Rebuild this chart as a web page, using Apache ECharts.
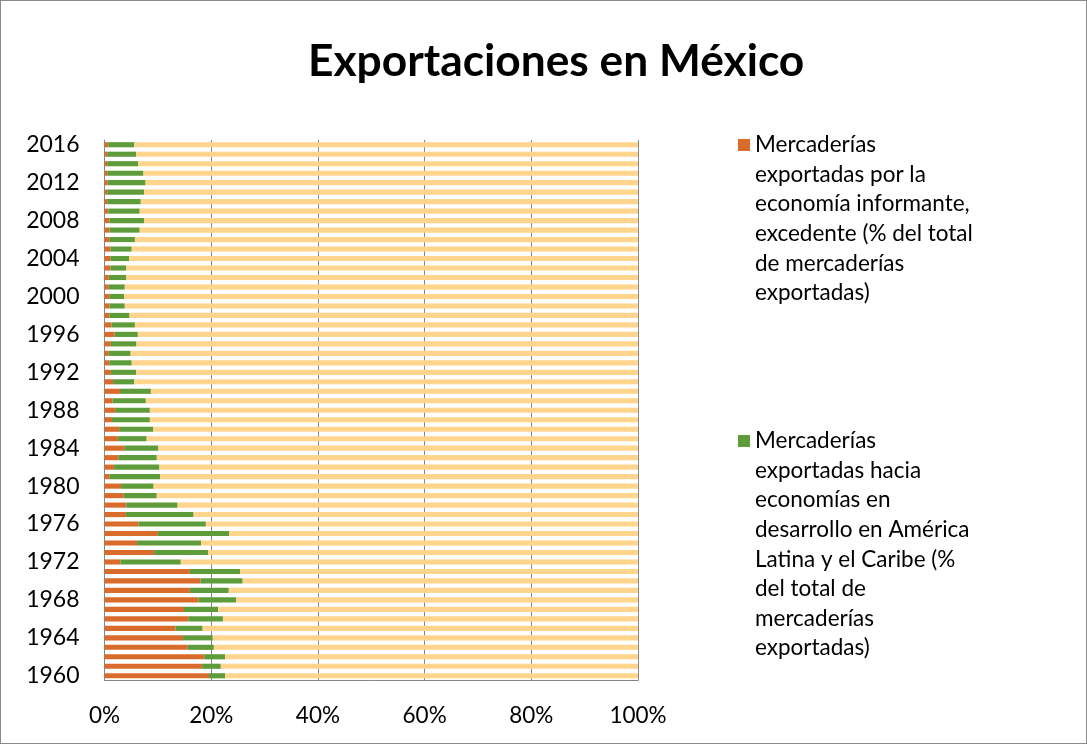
<!DOCTYPE html>
<html>
<head>
<meta charset="utf-8">
<script src="https://cdn.jsdelivr.net/npm/echarts@6/dist/echarts.min.js"></script>
<style>
html,body{margin:0;padding:0;background:#fff;}
#chart{width:1085px;height:742px;border:1px solid #8a8a8a;}
</style>
</head>
<body>
<div id="chart"></div>
<script>
const years = [];
for (let y = 1960; y <= 2016; y++) years.push(String(y));

// % of total merchandise exports (1960..2016)
const excedente = [19.6,18.3,18.7,15.6,14.7,13.3,15.7,14.9,17.6,16.0,18.0,16.0,3.0,9.3,6.1,10.0,6.4,4.0,4.1,3.6,3.1,0.9,1.8,2.6,3.7,2.5,2.75,1.4,2.0,1.5,2.9,1.6,1.2,0.9,0.8,1.2,1.9,1.3,0.9,0.9,0.9,0.8,0.8,1.1,1.1,1.1,0.9,0.9,0.9,0.7,0.5,0.5,0.6,0.5,0.5,0.5,0.7];
const americaLatina = [3.0,3.5,3.9,4.9,5.6,5.1,6.5,6.4,7.1,7.3,7.9,9.4,11.3,10.1,12.0,13.4,12.6,12.7,9.6,6.2,6.1,9.5,8.5,7.2,6.4,5.4,6.4,7.1,6.5,6.25,5.8,4.0,4.7,4.2,4.1,4.8,4.35,4.4,3.8,2.9,2.8,3.0,3.3,3.0,3.5,4.0,4.8,5.7,6.5,5.9,6.3,6.9,7.1,6.8,5.8,5.4,4.9];
const resto = excedente.map((v, i) => +(100 - v - americaLatina[i]).toFixed(2));

const name1 = 'Mercaderías\nexportadas por la\neconomía informante,\nexcedente (% del total\nde mercaderías\nexportadas)';
const name2 = 'Mercaderías\nexportadas hacia\neconomías en\ndesarrollo en América\nLatina y el Caribe (%\ndel total de\nmercaderías\nexportadas)';
const xTicks = [0, 20, 40, 60, 80, 100];

const FONT = 'Lato';
const LH = 29.6;
const LFS = 22.5;
const chart = echarts.init(document.getElementById('chart'));
const legendText = {fontFamily: FONT, fontSize: LFS, color: '#000', lineHeight: 27};
const firstLine = n => n.split('\n')[0];
const restLines = n => n.split('\n').slice(1).join('\n');
const c1 = 144, c2 = 440;
chart.setOption({
  animation: false,
  title: {
    text: 'Exportaciones en México',
    left: 302, top: 34,
    textStyle: {fontFamily: FONT, fontWeight: 'bold', fontSize: 44.3, color: '#000'}
  },
  legend: [
    {data: [name1], orient: 'vertical', left: 737, top: c1 - 13.5, itemWidth: 12, itemHeight: 12, padding: 0,
     icon: 'rect', textStyle: legendText, selectedMode: false, formatter: firstLine},
    {data: [name2], orient: 'vertical', left: 737, top: c2 - 13.5, itemWidth: 12, itemHeight: 12, padding: 0,
     icon: 'rect', textStyle: legendText, selectedMode: false, formatter: firstLine}
  ],
  graphic: [
    {type: 'text', left: 754, top: c1 + LH / 2, style: {text: restLines(name1), font: LFS + 'px ' + FONT, lineHeight: LH, fill: '#000'}},
    {type: 'text', left: 754, top: c2 + LH / 2, style: {text: restLines(name2), font: LFS + 'px ' + FONT, lineHeight: LH, fill: '#000'}}
  ],
  grid: {left: 103.5, right: 448, top: 139, bottom: 62.5, containLabel: false},
  xAxis: {
    type: 'value', min: 0, max: 100, interval: 20,
    axisLabel: {formatter: v => xTicks.includes(v) ? v + '%' : '', fontFamily: FONT, fontSize: 22.5, color: '#000', margin: 24},
    axisLine: {show: true, lineStyle: {color: '#868686'}},
    axisTick: {show: false},
    splitLine: {show: true, lineStyle: {color: '#868686', width: 1}}
  },
  yAxis: {
    type: 'category', data: years,
    axisLabel: {interval: 3, fontFamily: FONT, fontSize: 23, color: '#000', margin: 25},
    axisLine: {show: true, lineStyle: {color: '#868686'}},
    axisTick: {show: false}
  },
  series: [
    {name: name1, type: 'bar', stack: 't', data: excedente, barWidth: '54%', itemStyle: {color: '#D96B2B'}},
    {name: name2, type: 'bar', stack: 't', data: americaLatina, barWidth: '54%', itemStyle: {color: '#5E9B3B'}},
    {name: 'Resto', type: 'bar', stack: 't', data: resto, barWidth: '54%', itemStyle: {color: '#FFD48C'}}
  ]
});
</script>
</body>
</html>
